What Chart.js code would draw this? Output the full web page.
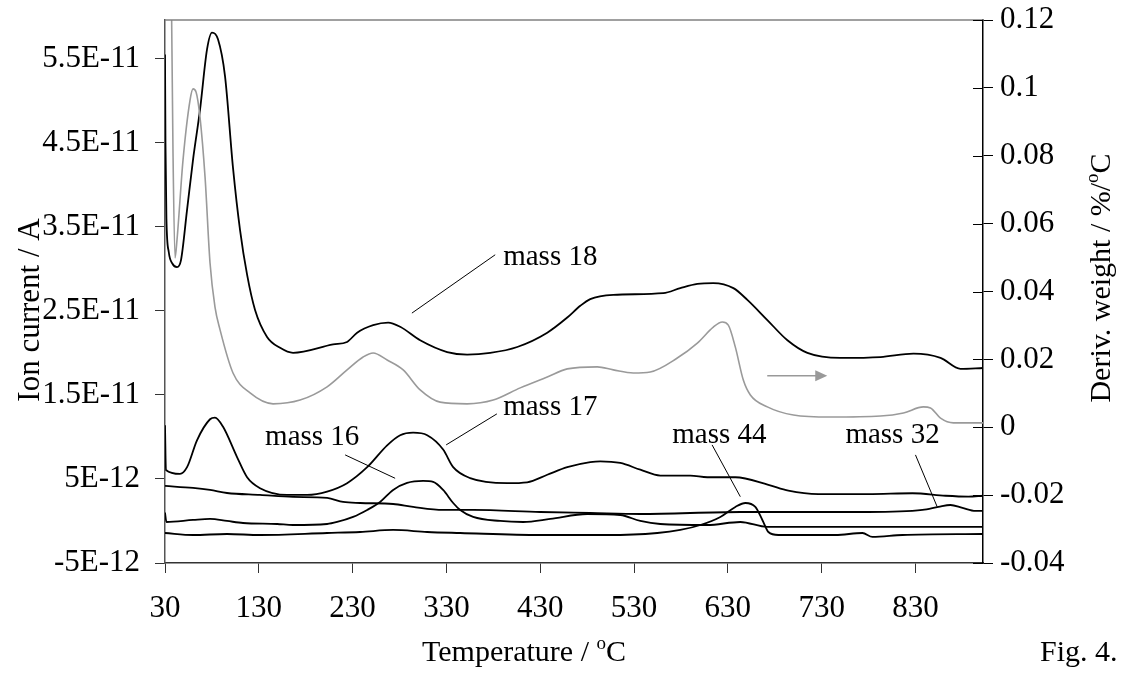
<!DOCTYPE html>
<html>
<head>
<meta charset="utf-8">
<script src="https://cdn.jsdelivr.net/npm/chart.js@4.4.1/dist/chart.umd.min.js"></script>
<style>
    html, body { margin: 0; padding: 0; background: #fff; }
    #wrap { width: 1126px; height: 688px; }
</style>
</head>
<body>
<div id="wrap"><canvas id="myChart" width="1126" height="688"></canvas></div>
<script>
// temperatures (oC) and ion currents (in units of 1E-12 A) per mass
const mass18T = [30, 30.5, 31.5, 34, 38, 42.8, 47, 53.5, 59.9, 67.3, 74.8, 80.1, 86.5, 94, 102.5, 110, 117.5, 126, 138.8, 152.7, 166.5, 209.2, 224.1, 234.8, 251.9, 267.9, 280.7, 302, 330.8, 352.1, 376.7, 405.5, 437.5, 458.8, 472.7, 483.3, 507.9, 561.2, 579.3, 597.5, 614.5, 635.9, 650.8, 672.1, 693.5, 714.8, 750, 792.7, 827.9, 856.7, 878, 902];
const mass18 = [55.5, 45, 36, 32, 30.6, 30.2, 31, 37.0, 43.0, 48.9, 56.1, 58.1, 57.3, 52.9, 42.0, 34.6, 29.3, 25.1, 21.9, 20.6, 20.0, 21.0, 21.3, 22.4, 23.3, 23.6, 23.1, 21.5, 20.1, 19.8, 20.0, 20.7, 22.4, 24.2, 25.6, 26.4, 26.9, 27.1, 27.7, 28.2, 28.3, 27.7, 26.3, 23.9, 21.5, 20.0, 19.4, 19.5, 19.9, 19.4, 18.1, 18.2];

const mass17T = [30, 31, 46, 53.5, 64.1, 78, 83.3, 91.9, 106.8, 117.5, 131.3, 160.1, 181.5, 202.8, 224.1, 245.5, 266.8, 280.7, 294.5, 309.5, 326.5, 337.2, 355.3, 394.8, 416.1, 437.5, 458.8, 483.3, 494, 515.3, 536.7, 558, 590, 608.1, 638, 673.2, 694.5, 726.5, 779.9, 826.8, 862, 886.5, 902];
const mass17 = [11.4, 6.07, 5.6, 6.4, 9.6, 12.1, 12.3, 11.2, 7.6, 5.2, 3.9, 3.1, 3.1, 3.5, 4.5, 6.4, 9.0, 10.2, 10.5, 10.2, 8.5, 6.4, 5.1, 4.5, 4.6, 5.5, 6.4, 7.0, 7.1, 6.9, 6.1, 5.4, 5.4, 5.2, 5.2, 4.3, 3.6, 3.2, 3.2, 3.3, 3.0, 2.9, 3.0];

const mass32T = [30, 59.9, 78, 96.1, 131.3, 166.5, 202.8, 219.9, 238, 273.2, 294.5, 326.5, 358.5, 430, 483.3, 536.7, 643.3, 709.5, 779.9, 837.5, 854.5, 867.3, 880.1, 894, 902];
const mass32 = [4.17, 3.93, 3.69, 3.33, 3.1, 2.86, 2.74, 2.26, 2.14, 2.02, 1.67, 1.31, 1.31, 1.07, 0.95, 0.83, 1.07, 1.07, 1.07, 1.31, 1.67, 1.9, 1.55, 1.19, 1.19];

const mass16T = [30, 31.5, 59.9, 78, 96.1, 113.2, 149.5, 166.5, 202.8, 213.5, 230.5, 245.5, 259.3, 273.2, 288.1, 305.2, 315.9, 326.5, 337.2, 344.7, 358.5, 387.3, 411.9, 440.7, 480.1, 515.3, 536.7, 558, 608.1, 643.3, 672.1, 707.3, 779.9, 902];
const mass16 = [1.0, -0.12, 0.12, 0.24, 0, -0.24, -0.36, -0.48, -0.36, -0.12, 0.48, 1.31, 2.26, 3.69, 4.52, 4.76, 4.64, 3.69, 2.14, 1.31, 0.48, 0, -0.12, 0.24, 0.83, 0.71, 0, -0.36, -0.48, -0.12, -0.71, -0.71, -0.71, -0.71];

const mass44T = [30, 59.9, 96.1, 131.3, 202.8, 238, 273.2, 309.5, 344.7, 430, 501.5, 554.8, 579.3, 600.7, 622, 638, 648.7, 659.3, 666.8, 673.2, 683.9, 744.7, 773.5, 784.1, 816.1, 902];
const mass44 = [-1.43, -1.67, -1.55, -1.67, -1.43, -1.31, -1.07, -1.31, -1.43, -1.67, -1.67, -1.43, -1.07, -0.48, 0.48, 1.67, 2.14, 1.67, 0.12, -1.31, -1.67, -1.67, -1.43, -1.9, -1.67, -1.55];

// derivative weight (%/oC), right axis
const derivT = [36.4, 38.5, 40.7, 42.8, 49.2, 56.7, 59.9, 63.1, 67.3, 72.7, 78, 83.3, 88.7, 102.5, 120.7, 145.2, 174, 202.8, 224.1, 241.2, 251.9, 266.8, 283.9, 302, 323.3, 352.1, 379.9, 408.7, 437.5, 458.8, 490.8, 507.9, 529.2, 547.3, 576.1, 597.5, 614.5, 624.1, 630.5, 638, 646.5, 654, 672.1, 699.9, 739.3, 792.7, 817.2, 838.5, 846, 856.7, 870.5, 902];
const deriv = [0.14, 0.0817, 0.0499, 0.0552, 0.0787, 0.0964, 0.0997, 0.0988, 0.0914, 0.0737, 0.0484, 0.0354, 0.0287, 0.016, 0.0101, 0.0069, 0.008, 0.0119, 0.0169, 0.0207, 0.0219, 0.0198, 0.0169, 0.011, 0.0074, 0.0069, 0.008, 0.0116, 0.0148, 0.0172, 0.0178, 0.0169, 0.016, 0.0163, 0.0204, 0.0248, 0.0295, 0.031, 0.0301, 0.0236, 0.0139, 0.0095, 0.006, 0.0036, 0.003, 0.0033, 0.0042, 0.006, 0.0057, 0.0027, 0.0013, 0.0013];

// axis ticks
const tempTicks = [30, 130, 230, 330, 430, 530, 630, 730, 830];
const ionTicks = [-5, 5, 15, 25, 35, 45, 55];
const derivTicks = [-0.04, -0.02, 0, 0.02, 0.04, 0.06, 0.08, 0.1, 0.12];

// labels with leader lines (in data units: temperature, ion current)
const labelText = ['mass 18', 'mass 17', 'mass 16', 'mass 44', 'mass 32'];
const labelT = [390.5, 390.5, 136.7, 570.8, 755.3];
const labelV = [30.5, 12.6, 9.05, 9.29, 9.29];
const leadT1 = [382, 383.8, 222, 613.2, 830];
const leadV1 = [31.67, 12.74, 7.86, 9.05, 7.86];
const leadT2 = [293.2, 329.7, 275.3, 643.3, 853.1];
const leadV2 = [24.73, 9.05, 5.08, 2.89, 1.70];
const arrowT = [672, 736];
const arrowD = 0.0152;

const FONT = "'Liberation Serif', 'Times New Roman', serif";

function pares(xs, ys) {
    return xs.map(function (x, i) { return { x: x, y: ys[i] }; });
}

function fmtE(v) {
    let val = v * 1e-12;
    if (Math.abs(val) < 1e-20) return '0';
    let exp = Math.floor(Math.log10(Math.abs(val)));
    let mant = Math.round(val / Math.pow(10, exp) * 10) / 10;
    let s = Math.abs(exp) < 10 ? '0' + Math.abs(exp) : '' + Math.abs(exp);
    return mant + 'E' + (exp < 0 ? '-' : '+') + s;
}

function fixTicks(lista) {
    return function (scale) {
        scale.ticks = lista.map(function (v) { return { value: v }; });
    };
}

// fixed axis sizes so the plot area lands where it is in the figure
function larguraFixa(w) {
    return function (scale) {
        scale.width = w;
        scale.paddingTop = 0;
        scale.paddingBottom = 0;
    };
}

function textoRico(ctx, partes, x, y, size, align) {
    let total = 0;
    let larguras = [];
    for (let p of partes) {
        ctx.font = (p.sup ? Math.round(size * 0.62) : size) + 'px ' + FONT;
        let w = ctx.measureText(p.t).width;
        larguras.push(w);
        total += w;
    }
    let px = align == 'center' ? x - total / 2 : x;
    ctx.textAlign = 'left';
    ctx.textBaseline = 'alphabetic';
    for (let i = 0; i < partes.length; i++) {
        let p = partes[i];
        ctx.font = (p.sup ? Math.round(size * 0.62) : size) + 'px ' + FONT;
        ctx.fillText(p.t, px, p.sup ? y - size * 0.4 : y);
        px += larguras[i];
    }
}

const extras = {
    id: 'extras',
    afterDraw: function (chart) {
        let ctx = chart.ctx;
        let area = chart.chartArea;
        let sx = chart.scales.x, sy = chart.scales.y, sd = chart.scales.y2;
        ctx.save();

        // top frame line
        ctx.strokeStyle = '#808080';
        ctx.lineWidth = 1.5;
        ctx.beginPath();
        ctx.moveTo(area.left, area.top);
        ctx.lineTo(area.right, area.top);
        ctx.stroke();

        // right axis ticks also cross inward
        ctx.strokeStyle = '#000';
        ctx.lineWidth = 1;
        for (let v of derivTicks) {
            let y = Math.round(sd.getPixelForValue(v)) + 0.5;
            ctx.beginPath();
            ctx.moveTo(area.right - 10, y);
            ctx.lineTo(area.right, y);
            ctx.stroke();
        }

        // leader lines and labels
        ctx.fillStyle = '#000';
        for (let i = 0; i < labelText.length; i++) {
            ctx.beginPath();
            ctx.moveTo(sx.getPixelForValue(leadT1[i]), sy.getPixelForValue(leadV1[i]));
            ctx.lineTo(sx.getPixelForValue(leadT2[i]), sy.getPixelForValue(leadV2[i]));
            ctx.stroke();
            ctx.font = '29px ' + FONT;
            ctx.textAlign = 'left';
            ctx.textBaseline = 'alphabetic';
            ctx.fillText(labelText[i], sx.getPixelForValue(labelT[i]), sy.getPixelForValue(labelV[i]));
        }

        // gray arrow pointing to the right axis
        let ax1 = sx.getPixelForValue(arrowT[0]);
        let ax2 = sx.getPixelForValue(arrowT[1]);
        let ay = sd.getPixelForValue(arrowD);
        ctx.strokeStyle = '#999';
        ctx.fillStyle = '#999';
        ctx.lineWidth = 1.5;
        ctx.beginPath();
        ctx.moveTo(ax1, ay);
        ctx.lineTo(ax2 - 10, ay);
        ctx.stroke();
        ctx.beginPath();
        ctx.moveTo(ax2, ay);
        ctx.lineTo(ax2 - 12, ay - 5.5);
        ctx.lineTo(ax2 - 12, ay + 5.5);
        ctx.closePath();
        ctx.fill();

        // axis titles
        ctx.fillStyle = '#000';
        textoRico(ctx, [{ t: 'Temperature / ' }, { t: 'o', sup: true }, { t: 'C' }], 524, 661, 30, 'center');
        textoRico(ctx, [{ t: 'Fig. 4.' }], 1040, 661, 30, 'left');

        ctx.save();
        ctx.translate(39, 310);
        ctx.rotate(-Math.PI / 2);
        textoRico(ctx, [{ t: 'Ion current / A' }], 0, 0, 31, 'center');
        ctx.restore();

        ctx.save();
        ctx.translate(1110, 278);
        ctx.rotate(-Math.PI / 2);
        textoRico(ctx, [{ t: 'Deriv. weight / %/' }, { t: 'o', sup: true }, { t: 'C' }], 0, 0, 30, 'center');
        ctx.restore();

        ctx.restore();
    }
};

function serie(label, xs, ys, cor, eixo, largura) {
    return {
        label: label,
        data: pares(xs, ys),
        yAxisID: eixo,
        borderColor: cor,
        borderWidth: largura,
        pointRadius: 0,
        fill: false,
        cubicInterpolationMode: 'monotone'
    };
}

let dados = {
    datasets: [
        serie('Deriv. weight', derivT, deriv, '#9a9a9a', 'y2', 1.6),
        serie('mass 18', mass18T, mass18, '#000', 'y', 1.8),
        serie('mass 17', mass17T, mass17, '#000', 'y', 1.8),
        serie('mass 32', mass32T, mass32, '#000', 'y', 1.8),
        serie('mass 16', mass16T, mass16, '#000', 'y', 1.8),
        serie('mass 44', mass44T, mass44, '#000', 'y', 1.8)
    ]
};

let tickFont = { family: FONT, size: 31 };

let options = {
    responsive: false,
    animation: false,
    devicePixelRatio: 1,
    layout: { padding: { top: 20, left: 0, right: 0, bottom: 0 } },
    plugins: { legend: { display: false }, tooltip: { enabled: false } },
    scales: {
        x: {
            type: 'linear',
            position: 'bottom',
            min: 30,
            max: 902,
            afterBuildTicks: fixTicks(tempTicks),
            afterFit: function (scale) {
                scale.height = 125;
                scale.paddingLeft = 0;
                scale.paddingRight = 0;
            },
            grid: { drawOnChartArea: false, tickLength: 10, tickColor: '#333' },
            border: { color: '#333', width: 1.5 },
            ticks: { font: tickFont, color: '#000', padding: 17, autoSkip: false, maxRotation: 0 }
        },
        y: {
            type: 'linear',
            position: 'left',
            min: -5,
            max: 59.6,
            afterBuildTicks: fixTicks(ionTicks),
            afterFit: larguraFixa(165),
            grid: { drawOnChartArea: false, tickLength: 10, tickColor: '#333' },
            border: { color: '#555', width: 1.5 },
            ticks: { font: tickFont, color: '#000', padding: 15, callback: function (v) { return fmtE(v); } }
        },
        y2: {
            type: 'linear',
            position: 'right',
            min: -0.04,
            max: 0.12,
            afterBuildTicks: fixTicks(derivTicks),
            afterFit: larguraFixa(143),
            grid: { drawOnChartArea: false, tickLength: 10, tickColor: '#000' },
            border: { color: '#000', width: 1.5 },
            ticks: { font: tickFont, color: '#000', padding: 7, callback: function (v) { return String(parseFloat(v.toFixed(2))); } }
        }
    }
};

let config = {
    type: 'line',
    data: dados,
    options: options,
    plugins: [extras]
};

let myChart = new Chart(document.getElementById('myChart'), config);
</script>
</body>
</html>
